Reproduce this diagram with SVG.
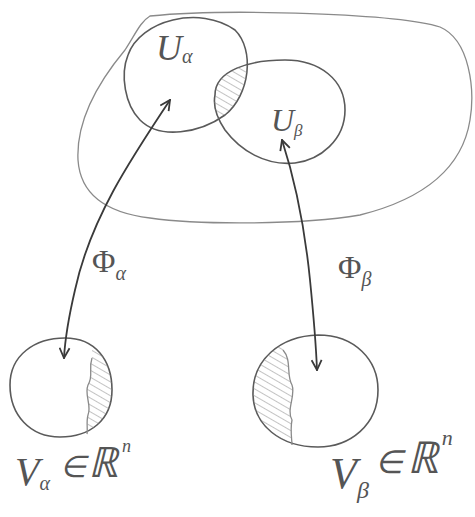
<svg xmlns="http://www.w3.org/2000/svg" width="475" height="517" viewBox="0 0 475 517">
<style>
.ln{fill:none;stroke:#5a5a5a;stroke-width:1.6;stroke-linecap:round;stroke-linejoin:round}
.thin{fill:none;stroke:#8a8a8a;stroke-width:1.3}
.arr{fill:none;stroke:#3a3a3a;stroke-width:1.8;stroke-linecap:round}
.t{font-family:"Liberation Serif",serif;font-style:italic;fill:#555}
.u{font-style:normal}
</style>
<defs>
<pattern id="hatch" patternUnits="userSpaceOnUse" width="6" height="6" patternTransform="rotate(-60)">
<line x1="0" y1="0" x2="0" y2="6" stroke="#888" stroke-width="1"/>
</pattern>
<clipPath id="cUa"><path d="M128,55 C140,20 200,5 235,30 C255,50 250,95 225,115 C200,133 160,140 140,120 C125,105 120,75 128,55 Z"/></clipPath>
<clipPath id="cVa"><path d="M10,385 C10,355 35,338 65,338 C95,338 112,360 112,390 C112,420 90,437 60,437 C30,437 10,415 10,385 Z"/></clipPath>
<clipPath id="cVb"><path d="M253,395 C252,360 280,336 318,335 C355,335 378,360 378,390 C378,425 350,447 318,447 C280,447 254,425 253,395 Z"/></clipPath>
<marker id="ah" viewBox="0 0 12 12" refX="11" refY="6" markerWidth="12" markerHeight="12" markerUnits="userSpaceOnUse" orient="auto-start-reverse">
<path d="M1,1 L11,6 L1,11" fill="none" stroke="#3a3a3a" stroke-width="1.8"/>
</marker>
</defs>
<g id="manifold">
<path class="thin" d="M150,16 C230,8 400,14 440,27 C470,40 475,90 470,120 C462,170 420,200 360,215 C300,225 200,225 150,218 C100,212 80,190 78,160 C76,120 100,80 125,50 C135,35 140,22 150,16 Z"/>
</g>
<g id="U_alpha">
<path class="ln" d="M128,55 C140,20 200,5 235,30 C255,50 250,95 225,115 C200,133 160,140 140,120 C125,105 120,75 128,55 Z"/>
<text class="t" x="156" y="60" font-size="36">U<tspan font-size="20" dy="3">α</tspan></text>
</g>
<g id="U_beta">
<path class="ln" d="M215,95 C215,70 250,60 285,60 C320,60 345,80 345,110 C345,140 320,160 295,163 C265,166 240,150 225,130 C215,115 213,105 215,95 Z"/>
<path fill="url(#hatch)" clip-path="url(#cUa)" d="M215,95 C215,70 250,60 285,60 C320,60 345,80 345,110 C345,140 320,160 295,163 C265,166 240,150 225,130 C215,115 213,105 215,95 Z"/>
<text class="t" x="271" y="131" font-size="32">U<tspan font-size="17" dy="5">β</tspan></text>
</g>
<g id="V_alpha">
<path class="ln" d="M10,385 C10,355 35,338 65,338 C95,338 112,360 112,390 C112,420 90,437 60,437 C30,437 10,415 10,385 Z"/>
<path fill="url(#hatch)" clip-path="url(#cVa)" d="M92,358 C88,370 94,375 88,385 C84,395 92,405 88,415 C86,422 88,430 87,440 L120,440 L120,330 L92,330 Z"/>
<path class="thin" d="M92,358 C88,370 94,375 88,385 C84,395 92,405 88,415 C86,422 88,430 87,434"/>
<text class="t" x="15" y="485" font-size="40">V<tspan font-size="20" dy="5">α</tspan><tspan font-size="30" dx="10" dy="-13">∈</tspan><tspan font-size="42" dx="2">ℝ</tspan><tspan font-size="18" dx="4" dy="-25">n</tspan></text>
</g>
<g id="V_beta">
<path class="ln" d="M253,395 C252,360 280,336 318,335 C355,335 378,360 378,390 C378,425 350,447 318,447 C280,447 254,425 253,395 Z"/>
<path fill="url(#hatch)" clip-path="url(#cVb)" d="M283,350 C292,360 286,375 292,385 C296,395 286,410 292,420 C290,430 292,440 292,450 L245,450 L245,330 L283,330 Z"/>
<path class="thin" d="M283,350 C292,360 286,375 292,385 C296,395 286,410 292,420 C290,430 292,440 292,445"/>
<text class="t" x="330" y="488" font-size="44">V<tspan font-size="24" dy="10">β</tspan><tspan font-size="32" dx="6" dy="-25">∈</tspan><tspan font-size="44" dx="4">ℝ</tspan><tspan font-size="22" dx="4" dy="-28">n</tspan></text>
</g>
<g id="connectors">
<path class="arr" marker-start="url(#ah)" marker-end="url(#ah)" d="M170,100 C130,160 90,220 75,290 C68,320 65,340 64,358"/>
<path class="arr" marker-start="url(#ah)" marker-end="url(#ah)" d="M282,140 C295,180 305,230 310,280 C314,320 316,345 317,370"/>
<text class="t" x="92" y="272" font-size="32"><tspan class="u">Φ</tspan><tspan font-size="20" dy="8">α</tspan></text>
<text class="t" x="338" y="278" font-size="32"><tspan class="u">Φ</tspan><tspan font-size="20" dy="8">β</tspan></text>
</g>
</svg>
